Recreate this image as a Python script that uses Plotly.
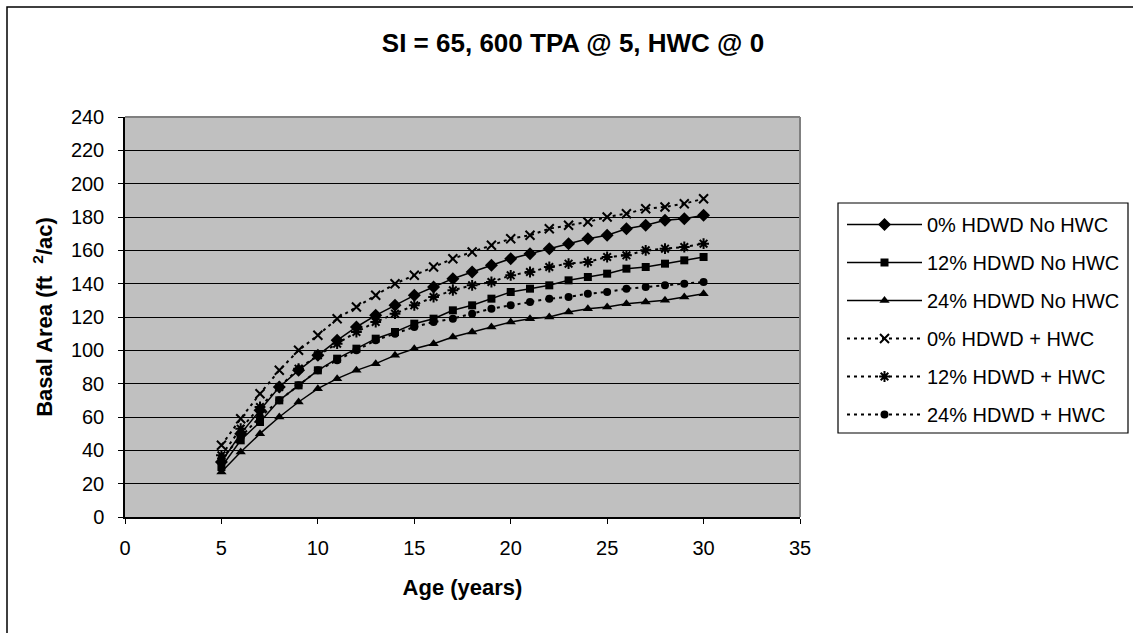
import plotly.graph_objects as go

# ---- data ----
ages = list(range(5, 31))
names = ["0% HDWD No HWC", "12% HDWD No HWC", "24% HDWD No HWC",
         "0% HDWD + HWC", "12% HDWD + HWC", "24% HDWD + HWC"]
hdwd0_no_hwc = [33, 50, 64, 78, 88, 97, 106, 114, 121, 127, 133, 138, 143, 147, 151, 155,
                158, 161, 164, 167, 169, 173, 175, 178, 179, 181]
hdwd12_no_hwc = [30, 46, 57, 70, 79, 88, 95, 101, 107, 111, 116, 119, 124, 127, 131, 135,
                 137, 139, 142, 144, 146, 149, 150, 152, 154, 156]
hdwd24_no_hwc = [27, 39, 50, 60, 69, 77, 83, 88, 92, 97, 101, 104, 108, 111, 114, 117,
                 119, 120, 123, 125, 126, 128, 129, 130, 132, 134]
hdwd0_hwc = [43, 59, 74, 88, 100, 109, 119, 126, 133, 140, 145, 150, 155, 159, 163, 167,
             169, 173, 175, 177, 180, 182, 185, 186, 188, 191]
hdwd12_hwc = [37, 53, 66, 78, 89, 97, 104, 111, 117, 122, 127, 132, 136, 139, 141, 145,
              147, 150, 152, 153, 156, 157, 160, 161, 162, 164]
hdwd24_hwc = [35, 48, 60, 70, 79, 88, 94, 100, 106, 110, 114, 117, 119, 122, 125, 127,
              129, 131, 132, 134, 135, 137, 138, 139, 140, 141]
x_ticks = [0, 5, 10, 15, 20, 25, 30, 35]
y_ticks = [0, 20, 40, 60, 80, 100, 120, 140, 160, 180, 200, 220, 240]

series = [hdwd0_no_hwc, hdwd12_no_hwc, hdwd24_no_hwc, hdwd0_hwc, hdwd12_hwc, hdwd24_hwc]
styles = [
    dict(symbol="diamond", size=10, dash="solid", lw=1.5, mlw=0),
    dict(symbol="square", size=8, dash="solid", lw=1.5, mlw=0),
    dict(symbol="triangle-up", size=9, dash="solid", lw=1.5, mlw=0),
    dict(symbol="x-thin-open", size=9, dash="3px,4px", lw=2, mlw=2),
    dict(symbol="asterisk-open", size=9, dash="3px,4px", lw=2, mlw=2),
    dict(symbol="circle", size=8, dash="3px,4px", lw=2, mlw=0),
]

FONT = "Arial, Liberation Sans, sans-serif"
L, R, T, B = 125, 800, 117, 517
W, H = 1133, 633

def px_x(p):
    return (p - L) / (R - L)

def px_y(p):
    return (B - p) / (B - T)

fig = go.Figure()
for i, (nm, vals, st) in enumerate(zip(names, series, styles)):
    fig.add_trace(go.Scatter(
        x=ages, y=vals, name=nm, mode="lines+markers", legendgroup=f"g{i}",
        line=dict(color="black", width=st["lw"], dash=st["dash"]),
        marker=dict(symbol=st["symbol"], size=st["size"], color="black",
                    line=dict(color="black", width=st["mlw"])),
    ))

fig.update_layout(
    width=W, height=H,
    margin=dict(l=L, r=W - R, t=T, b=H - B, autoexpand=False),
    paper_bgcolor="white", plot_bgcolor="#c0c0c0",
    font=dict(family=FONT, color="black", size=20),
    title=dict(text="SI = 65, 600 TPA @ 5, HWC @ 0", x=573 / W, xanchor="center",
               y=1 - 43 / H, yanchor="middle",
               font=dict(family=FONT, size=26, weight="bold", color="black")),
    showlegend=True,
    legend=dict(x=px_x(842), xanchor="left", y=px_y(205), yanchor="top",
                bgcolor="rgba(0,0,0,0)", borderwidth=0, itemwidth=75,
                tracegroupgap=9, font=dict(family=FONT, size=20, color="black")),
)

fig.update_xaxes(range=[0, 35], tickvals=x_ticks, showgrid=False, zeroline=False,
                 showline=True, linecolor="black", linewidth=1.5,
                 ticks="outside", ticklen=5, tickcolor="black", tickwidth=1,
                 ticklabelstandoff=7, tickfont=dict(size=20),
                 title=dict(text="Age (years)", standoff=22,
                            font=dict(family=FONT, size=22, weight="bold")))
fig.update_yaxes(range=[0, 240], tickvals=y_ticks, showgrid=True, gridcolor="black",
                 gridwidth=1, zeroline=False,
                 showline=True, linecolor="black", linewidth=1.5,
                 ticks="outside", ticklen=5, tickcolor="black", tickwidth=1,
                 ticklabelstandoff=10, tickfont=dict(size=20),
                 title=dict(text="Basal Area (ft\u00a0 <sup>2</sup>/ac)", standoff=12,
                            font=dict(family=FONT, size=22, weight="bold")))

# plot-area frame (grey top/right edges)
fig.add_shape(type="line", xref="paper", yref="paper", x0=0, x1=1, y0=1, y1=1,
              line=dict(color="#808080", width=2), layer="above")
fig.add_shape(type="line", xref="paper", yref="paper", x0=1, x1=1, y0=0, y1=1,
              line=dict(color="#808080", width=2), layer="above")
# legend box
fig.add_shape(type="rect", xref="paper", yref="paper",
              x0=px_x(838), x1=px_x(1128), y0=px_y(433), y1=px_y(203),
              line=dict(color="black", width=1.2), fillcolor="rgba(0,0,0,0)", layer="above")
# outer chart border
fig.add_shape(type="rect", xref="paper", yref="paper",
              x0=px_x(7), x1=px_x(1145), y0=px_y(650), y1=px_y(7),
              line=dict(color="black", width=1.5), fillcolor="rgba(0,0,0,0)", layer="below")

fig.write_html("out.html")
